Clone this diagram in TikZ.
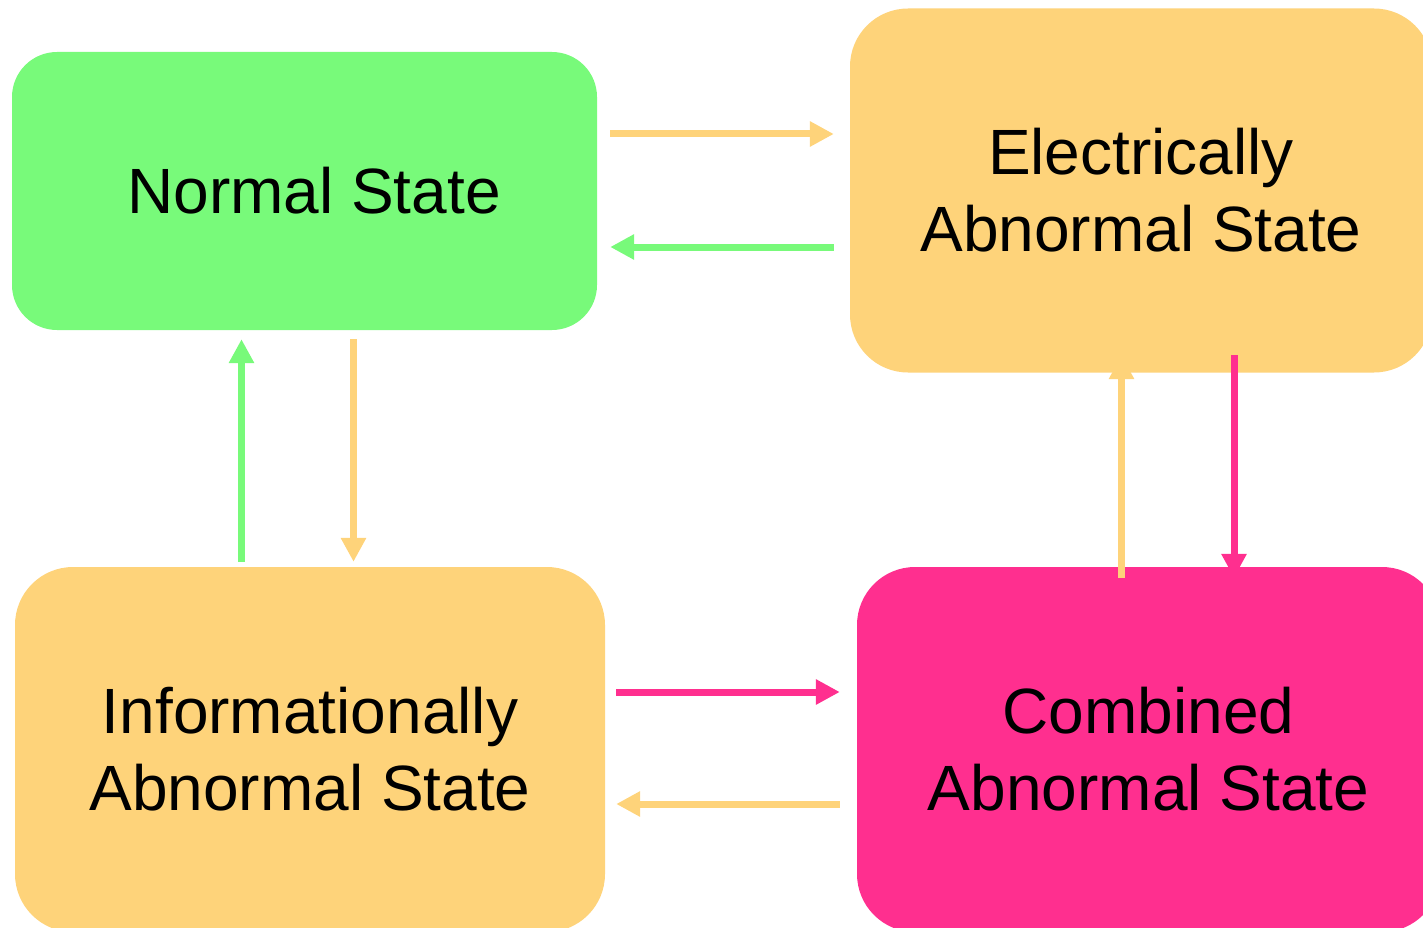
\documentclass[tikz,border=0pt]{standalone}
\usepackage{fontspec}
\setmainfont{Liberation Sans}
\usetikzlibrary{arrows.meta,calc}
\definecolor{normalgreen}{RGB}{120,250,122}
\definecolor{abnorange}{RGB}{254,211,122}
\definecolor{combpink}{RGB}{255,47,143}
\tikzset{>={Triangle[length=24pt,width=24pt]}}

\begin{document}
\begin{tikzpicture}[x=1pt,y=-1pt]
\useasboundingbox (0,0) rectangle (1423,928);
\clip (0,0) rectangle (1423,928);
\begin{scope}[every node/.style={rectangle,inner sep=0pt,align=center,
    font=\fontsize{64}{77}\selectfont,rounded corners=58pt}]
\node (N) [fill=normalgreen,minimum width=585pt,minimum height=278pt,rounded corners=45pt] at (304.5,191) {\hspace*{19pt}Normal State};
\node (E) [fill=abnorange,minimum width=582pt,minimum height=364pt] at (1141,190.5) {Electrically\\Abnormal State};
\node (I) [fill=abnorange,minimum width=590pt,minimum height=365pt] at (310,749.5) {Informationally\\Abnormal State};
\node (C) [fill=combpink,minimum width=583pt,minimum height=365pt] at (1148.5,749.5) {Combined\\Abnormal State};
\end{scope}
\begin{scope}[every edge/.style={draw,line width=7pt}]
    % top pair
    \path [->] ($(N.east)+(13,-57)$) edge [abnorange] ($(E.west)+(-16,-56.5)$);
    \path [->] ($(E.west)+(-16,56.5)$) edge [normalgreen] ($(N.east)+(13,56)$);

    % left pair
    \path [->] ($(I.north)+(-68.5,-5)$) edge [normalgreen] ($(N.south)+(-63,9)$);
    \path [->] ($(N.south)+(49,9)$) edge [abnorange] ($(I.north)+(43.5,-5)$);

    % bottom pair
    \path [->] ($(I.east)+(11,-57.5)$) edge [combpink] ($(C.west)+(-17,-57.5)$);
    \path [->] ($(C.west)+(-17,54.5)$) edge [abnorange] ($(I.east)+(11,54.5)$);

    % right pair
    \path [->] ($(C.north)+(-27,11)$) edge [abnorange] ($(E.south)+(-19.5,-17.5)$);
    \path [->] ($(E.south)+(93,-17.5)$) edge [combpink] ($(C.north)+(85.5,11)$);
\end{scope}
\end{tikzpicture}
\end{document}
